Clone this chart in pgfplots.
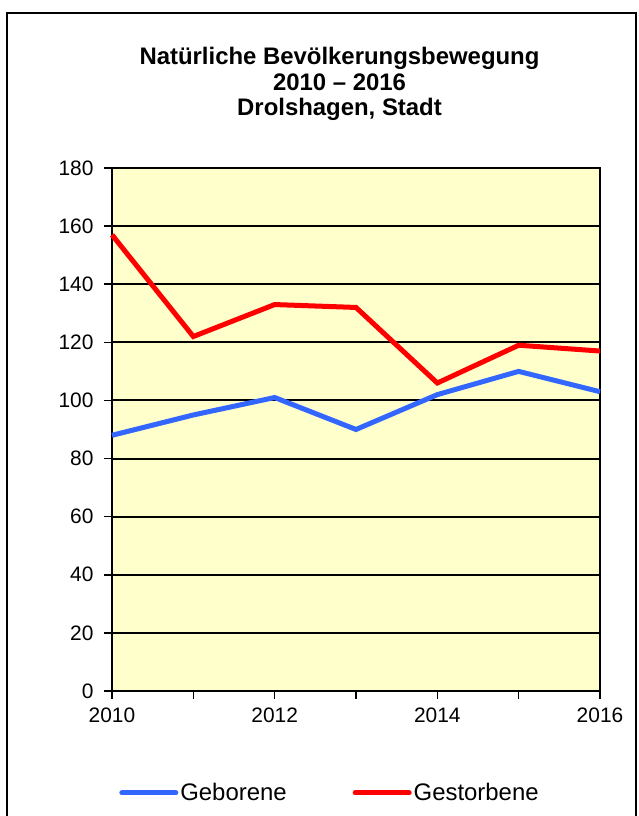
\documentclass[border=0pt]{standalone}
\usepackage{pgfplots}
\pgfplotsset{compat=1.18}
\usepackage{fontspec}
\setmainfont{Liberation Sans}
\definecolor{plotbg}{RGB}{255,255,204}
\definecolor{gebblue}{RGB}{51,102,255}
\definecolor{gesred}{RGB}{255,0,0}
\begin{document}
\begin{tikzpicture}[x=1bp,y=1bp]
\useasboundingbox (0,0) rectangle (639,816);
\fill[white] (0,0) rectangle (639,816);
\draw[line width=2.5bp] (7,-20) -- (7,803) -- (636,803) -- (636,-20);
\node[font=\fontsize{24}{26}\selectfont\bfseries, anchor=base] at (339.5,751) {Natürliche Bevölkerungsbewegung};
\node[font=\fontsize{24}{26}\selectfont\bfseries, anchor=base] at (339.5,725.5) {2010 – 2016};
\node[font=\fontsize{24}{26}\selectfont\bfseries, anchor=base] at (339.5,700) {Drolshagen, Stadt};
\begin{axis}[
  at={(112bp,125bp)}, anchor=south west, scale only axis,
  width=488bp, height=523bp,
  xmin=2010, xmax=2016, ymin=0, ymax=180,
  ytick={0,20,...,180},
  xtick={2010,2012,2014,2016},
  minor xtick={2011,2013,2015},
  tick pos=left,
  tick align=outside,
  major tick length=8bp, minor tick length=8bp,
  tick style={black, line width=1.5bp},
  minor tick style={black, line width=1.5bp},
  axis line style={line width=2.5bp},
  ymajorgrids,
  major grid style={black, line width=2bp},
  axis background/.style={fill=plotbg},
  /pgf/number format/1000 sep={},
  /pgf/number format/assume math mode=true,
  ticklabel style={font=\fontsize{21}{25}\selectfont},
  yticklabel style={xshift=-7bp},
  xticklabel style={yshift=-5bp},
  clip=false,
  legend style={at={(0.4467,-0.195)}, anchor=center, draw=none, fill=none,
    font=\fontsize{24}{28}\selectfont,
    /tikz/every even column/.append style={column sep=64bp}},
  legend columns=2,
  legend image code/.code={\draw[#1,line cap=round] (0bp,0bp) -- (54bp,0bp);},
]
\addplot[gebblue, line width=5bp] coordinates {
  (2010,88) (2011,95) (2012,101) (2013,90) (2014,102) (2015,110) (2016,103)};
\addlegendentry{Geborene}
\addplot[gesred, line width=5bp] coordinates {
  (2010,157) (2011,122) (2012,133) (2013,132) (2014,106) (2015,119) (2016,117)};
\addlegendentry{Gestorbene}
\end{axis}
\end{tikzpicture}
\end{document}
